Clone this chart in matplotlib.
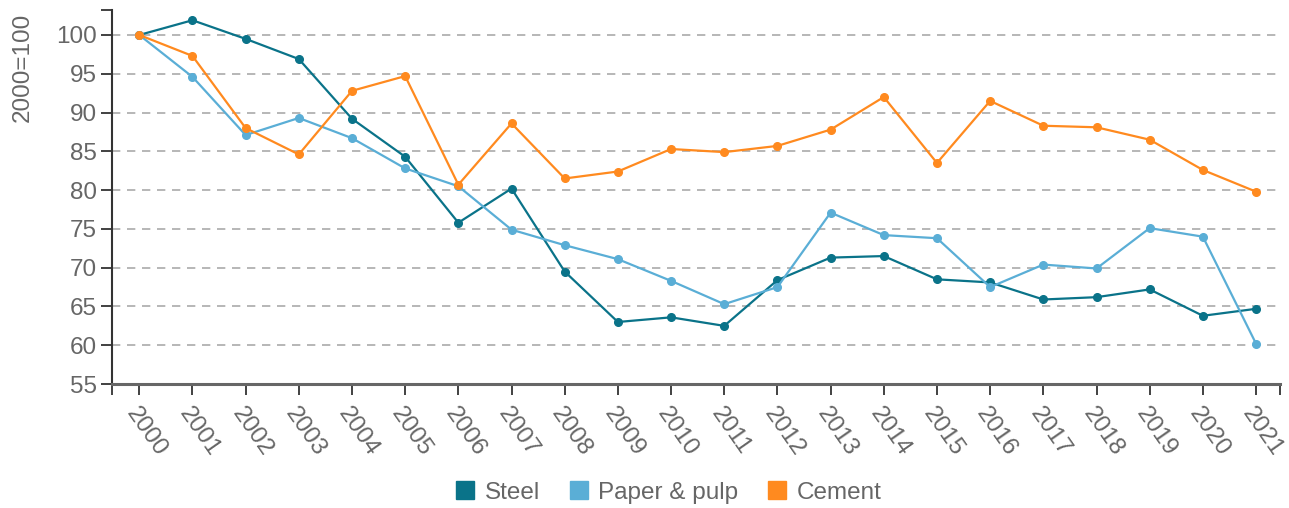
import numpy as np
import matplotlib.pyplot as plt
from matplotlib.lines import Line2D

plt.rcParams['font.family'] = ['Liberation Sans', 'DejaVu Sans']

years = list(range(2000, 2022))
steel = [100, 101.9, 99.5, 96.9, 89.2, 84.3, 75.8, 80.2, 69.5, 63.0, 63.6,
         62.5, 68.4, 71.3, 71.5, 68.5, 68.1, 65.9, 66.2, 67.2, 63.8, 64.7]
paper = [100, 94.6, 87.1, 89.3, 86.7, 82.8, 80.5, 74.9, 72.9, 71.1, 68.3,
         65.3, 67.5, 77.1, 74.2, 73.8, 67.5, 70.4, 69.9, 75.1, 74.0, 60.2]
cement = [100, 97.3, 88.0, 84.6, 92.8, 94.7, 80.7, 88.6, 81.5, 82.4, 85.3,
          84.9, 85.7, 87.8, 92.0, 83.5, 91.5, 88.3, 88.1, 86.5, 82.6, 79.8]
names = ["Steel", "Paper & pulp", "Cement"]
colors = ["#0a7389", "#5aaed6", "#ff8a1f"]
yticks = list(range(55, 101, 5))

txt = "#666666"
fs = 17.5
ymin, ymax = 55, 103.2
xmin, xmax = 1999.49, 2021.45

fig = plt.figure(figsize=(12.89, 5.08), dpi=100)
ax = fig.add_axes([0.087, 0.244, 0.906, 0.736])

for vals, c in zip([steel, paper, cement], colors):
    ax.plot(years, vals, color=c, lw=1.6, marker="o", ms=5.5, zorder=3)

ax.set_ylim(ymin, ymax)
ax.set_xlim(xmin, xmax)
ax.set_yticks(yticks)
ax.set_yticks([ymax], minor=True)
ax.set_xticks(years)
ax.set_xticks([xmin, xmax], minor=True)
ax.set_xticklabels([str(y) for y in years], rotation=-55, ha="left",
                   rotation_mode="anchor", fontsize=fs, color=txt)
ax.tick_params(axis="y", which="both", labelsize=fs, labelcolor=txt, length=8,
               width=1.3, color="#333333", pad=3)
ax.tick_params(axis="x", which="both", length=8, width=1.3, color="#333333", pad=6)

for y in yticks[1:]:
    ax.axhline(y, color="#aaaaaa", lw=1.2, ls=(0, (5, 4)), zorder=1)

for s in ["top", "right"]:
    ax.spines[s].set_visible(False)
ax.spines["left"].set_color("#333333")
ax.spines["left"].set_linewidth(1.5)
ax.spines["bottom"].set_color("#666666")
ax.spines["bottom"].set_linewidth(2.2)

fig.text(0.018, 0.868, "2000=100", rotation=90, ha="center", va="center",
         fontsize=fs, color=txt)

handles = [Line2D([], [], marker="s", ls="", color=c, ms=13) for c in colors]
fig.legend(handles, names, loc="center", bbox_to_anchor=(0.516, 0.03),
           ncol=3, frameon=False, fontsize=fs, labelcolor=txt,
           handletextpad=0.1, columnspacing=0.9, handlelength=1.4)

fig.savefig("out.png", dpi=100)
